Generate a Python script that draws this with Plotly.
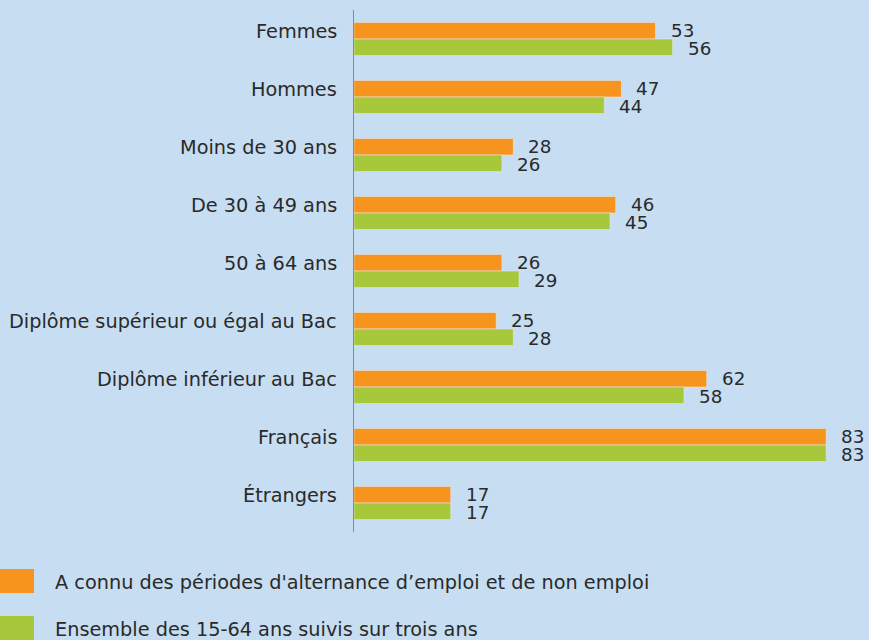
import plotly.graph_objects as go

categories = ["Femmes", "Hommes", "Moins de 30 ans", "De 30 à 49 ans", "50 à 64 ans",
              "Diplôme supérieur ou égal au Bac", "Diplôme inférieur au Bac",
              "Français", "Étrangers"]
alternance = [53, 47, 28, 46, 26, 25, 62, 83, 17]
ensemble = [56, 44, 26, 45, 29, 28, 58, 83, 17]
series_names = ["A connu des périodes d'alternance d’emploi et de non emploi",
                "Ensemble des 15-64 ans suivis sur trois ans"]

ORANGE = "#f7941d"
GREEN = "#a8c83c"
BG = "#c6ddf2"
TXT = "#2a2a2a"
FONT = "DejaVu Sans"
FS_LABEL = 19.3
FS_VALUE = 18.3

W, H = 869, 640
ML, MR, MT, MB = 354, 3, 10, 108

fig = go.Figure()
fig.add_trace(go.Bar(y=categories, x=alternance, orientation="h", marker_color=ORANGE,
                     name=series_names[0], showlegend=False, hoverinfo="skip"))
fig.add_trace(go.Bar(y=categories, x=ensemble, orientation="h", marker_color=GREEN,
                     name=series_names[1], showlegend=False, hoverinfo="skip"))

ann = []
for c, a, e in zip(categories, alternance, ensemble):
    ann.append(dict(x=0, xref="paper", y=c, yref="y", text=c, showarrow=False,
                    xanchor="right", yanchor="middle", xshift=-15, yshift=8,
                    font=dict(size=FS_LABEL, color=TXT, family=FONT)))
    ann.append(dict(x=a, y=c, xref="x", yref="y", text=str(a), showarrow=False,
                    xanchor="left", yanchor="middle", xshift=13, yshift=8.5,
                    font=dict(size=FS_VALUE, color=TXT, family=FONT)))
    ann.append(dict(x=e, y=c, xref="x", yref="y", text=str(e), showarrow=False,
                    xanchor="left", yanchor="middle", xshift=13, yshift=-9,
                    font=dict(size=FS_VALUE, color=TXT, family=FONT)))

plot_h = H - MT - MB
plot_w = W - ML - MR
def py(p):
    return (H - MB - p) / plot_h
def px(p):
    return (p - ML) / plot_w

shapes = []
for (top, bot), col, name in zip([(569, 593), (616, 640)], [ORANGE, GREEN], series_names):
    shapes.append(dict(type="rect", xref="paper", yref="paper",
                       x0=px(0), x1=px(34), y0=py(bot), y1=py(top),
                       fillcolor=col, line_width=0))
    ann.append(dict(x=px(53), xref="paper", y=py((top + bot) / 2 + 1), yref="paper",
                    text=name, showarrow=False, xanchor="left", yanchor="middle",
                    font=dict(size=FS_LABEL, color=TXT, family=FONT)))

fig.update_layout(
    width=W, height=H, margin=dict(l=ML, r=MR, t=MT, b=MB),
    paper_bgcolor=BG, plot_bgcolor=BG,
    barmode="group", bargap=0.43, bargroupgap=0,
    xaxis=dict(range=[0, 90], visible=False, showgrid=False, zeroline=False),
    yaxis=dict(autorange="reversed", showticklabels=False, showgrid=False, zeroline=False,
               showline=True, linecolor="#8a8a8a", linewidth=1, ticks=""),
    annotations=ann, shapes=shapes, showlegend=False, hovermode=False,
)
fig.write_html("out.html", config={"displayModeBar": False},
               post_script="document.body.style.margin='0';document.body.style.overflow='hidden';")
